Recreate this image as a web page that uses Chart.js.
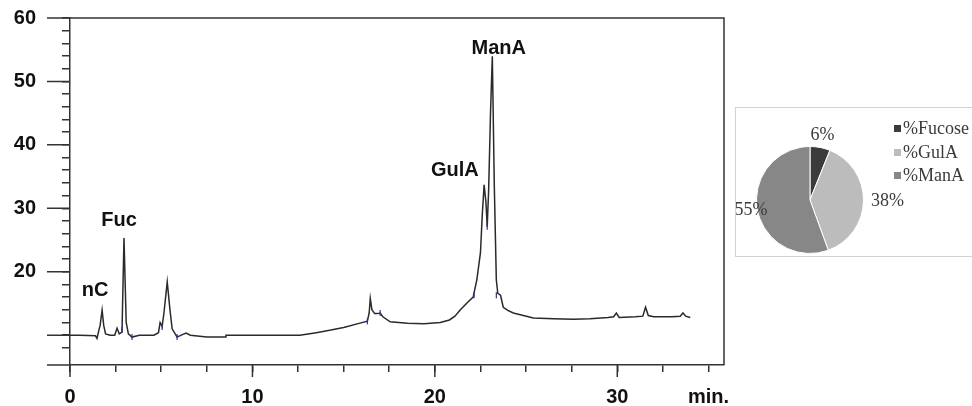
<!DOCTYPE html>
<html>
<head>
<meta charset="utf-8">
<script src="https://cdn.jsdelivr.net/npm/chart.js@4.4.1/dist/chart.umd.min.js"></script>
<style>
  html, body { margin: 0; padding: 0; background: #fff; overflow: hidden; }
  body { width: 972px; height: 406px; position: relative; }
  #lineBox { position: absolute; left: 0; top: 0; width: 740px; height: 406px; }
  #pieFrame { position: absolute; left: 735px; top: 107px; width: 260px; height: 150px; border: 1px solid #d2d2d2; box-sizing: border-box; }
  #pieBox { position: absolute; left: 736px; top: 108px; width: 236px; height: 147px; }
  #pieLegend { position: absolute; left: 894px; top: 117px; font-family: "Liberation Serif", serif; font-size: 18px; color: #3a3a3a; }
  .item { height: 23.5px; display: flex; align-items: center; white-space: nowrap; }
  .swatch { width: 7px; height: 7px; margin-right: 2px; }
</style>
</head>
<body>
<div id="lineBox"><canvas id="lineChart"></canvas></div>
<div id="pieFrame"></div>
<div id="pieBox"><canvas id="pieChart"></canvas></div>
<div id="pieLegend"></div>

<script>
// chromatogram: time (min) and signal
const times = [
  0, 0.5, 1.0, 1.4, 1.48, 1.6, 1.65, 1.76, 1.85, 1.95, 2.2, 2.45, 2.58, 2.7, 2.85,
  2.96, 3.08, 3.2, 3.4, 3.8, 4.6, 4.85, 4.94, 5.05, 5.15, 5.33, 5.48, 5.6, 5.87,
  6.1, 6.36, 6.6, 7.5, 8.5, 8.55, 10, 12.6, 13.5, 14.3, 15.0, 15.9, 16.3, 16.4,
  16.46, 16.55, 16.7, 16.85, 17.0, 17.15, 17.55, 18.5, 19.4, 20.3, 20.8, 21.1,
  21.4, 21.8, 22.1, 22.3, 22.5, 22.6, 22.7, 22.8, 22.87, 22.95, 23.05, 23.15,
  23.26, 23.37, 23.45, 23.6, 23.75, 24.0, 24.3, 25.4, 26.5, 27.6, 28.5, 29.5,
  29.8, 29.95, 30.1, 31.0, 31.4, 31.55, 31.7, 32.0, 33.0, 33.45, 33.6, 33.75, 34.0
]
const signal = [
  10.0, 10.0, 9.95, 9.9, 9.5, 11.0, 11.5, 13.95, 11.5, 10.2, 10.0, 10.0, 11.1, 10.2, 10.5,
  25.3, 12.0, 10.2, 9.7, 10.0, 10.0, 10.4, 12.0, 11.4, 13.5, 18.4, 14.0, 11.0, 9.7,
  10.0, 10.35, 10.0, 9.7, 9.7, 10.0, 10.0, 10.0, 10.4, 10.8, 11.2, 11.9, 12.2, 13.5,
  15.8, 14.0, 13.4, 13.4, 13.5, 12.9, 12.1, 11.9, 11.8, 12.0, 12.4, 13.0,
  14.0, 15.2, 16.0, 18.7, 23.0, 29.0, 33.7, 31.0, 27.1, 33.0, 45.0, 53.95,
  33.4, 18.7, 16.6, 16.3, 14.4, 13.9, 13.5, 12.7, 12.6, 12.5, 12.6, 12.8,
  12.9, 13.5, 12.8, 12.9, 13.0, 14.4, 13.1, 12.9, 12.9, 13.0, 13.5, 13.0, 12.8
]

// integration marks (blue)
const markTimes = [2.85, 3.4, 5.05, 5.87, 16.3, 17.0, 22.15, 22.87, 23.37]
const markSignal = [10.8, 9.7, 11.3, 9.7, 12.2, 13.5, 16.3, 27.1, 16.3]

// peak names
const peakNames = ["nC", "Fuc", "GulA", "ManA"]
const peakTimes = [1.37, 2.69, 21.1, 23.5]
const peakLevels = [17.0, 28.1, 35.9, 55.2]

// axis ticks
const xTicks = [0, 2.5, 5, 7.5, 10, 12.5, 15, 17.5, 20, 22.5, 25, 27.5, 30, 32.5, 35]
const xLabels = ["0", "", "", "", "10", "", "", "", "20", "", "", "", "30", "", "min."]
const xMajor = [0, 10, 20, 30]
const yTicks = [8, 10, 12, 14, 16, 18, 20, 22, 24, 26, 28, 30, 32, 34, 36, 38, 40, 42, 44, 46, 48, 50, 52, 54, 56, 58, 60]
const yMajor = [10, 20, 30, 40, 50, 60]
const yLabelled = [20, 30, 40, 50, 60]

// pie
const pieLabels = ["%Fucose", "%GulA", "%ManA"]
const pieValues = [6, 38, 55]
const pieColors = ["#3b3b3b", "#bcbcbc", "#878787"]

const BOLD = { family: "'Liberation Sans', Arial, sans-serif", size: 20, weight: "bold" }


// frame and long ticks
const framePlugin = {
  id: "frame",
  afterDraw(chart) {
    const ctx = chart.ctx
    const a = chart.chartArea
    const xs = chart.scales.x
    const ys = chart.scales.y

    ctx.save()
    ctx.strokeStyle = "#333"
    ctx.lineWidth = 1.5
    ctx.beginPath()
    ctx.moveTo(a.left - 23, a.top)
    ctx.lineTo(a.right, a.top)
    ctx.lineTo(a.right, a.bottom)
    ctx.moveTo(a.left - 23, a.bottom)
    ctx.lineTo(a.left, a.bottom)

    yMajor.forEach(function (v) {
      const y = ys.getPixelForValue(v)
      ctx.moveTo(a.left - 23, y)
      ctx.lineTo(a.left, y)
    })

    xMajor.forEach(function (v) {
      const x = xs.getPixelForValue(v)
      ctx.moveTo(x, a.bottom)
      ctx.lineTo(x, a.bottom + 12)
    })
    ctx.stroke()

    // peak names
    ctx.fillStyle = "#111"
    ctx.font = "bold 20px 'Liberation Sans', Arial, sans-serif"
    ctx.textAlign = "center"
    ctx.textBaseline = "middle"
    peakNames.forEach(function (name, i) {
      ctx.fillText(name, xs.getPixelForValue(peakTimes[i]), ys.getPixelForValue(peakLevels[i]))
    })
    ctx.restore()
  },
}


// no extra padding from tick labels
function fixPadding(scale) {
  scale.paddingTop = 0
  scale.paddingBottom = 0
  scale.paddingLeft = 0
  scale.paddingRight = 0
}


// chromatogram
new Chart(document.getElementById("lineChart"), {
  type: "line",
  data: {
    datasets: [
      {
        data: markTimes.map(function (t, i) { return { x: t, y: markSignal[i] } }),
        showLine: false,
        pointStyle: "line",
        rotation: 90,
        pointRadius: 3,
        borderColor: "#2c2ca0",
        borderWidth: 1.2,
      },
      {
        data: times.map(function (t, i) { return { x: t, y: signal[i] } }),
        borderColor: "#2a2a2a",
        borderWidth: 1.5,
        pointRadius: 0,
        tension: 0,
      },
    ],
  },
  options: {
    responsive: true,
    maintainAspectRatio: false,
    animation: false,
    layout: { padding: { top: 18, right: 16, left: 0, bottom: 0 } },
    plugins: { legend: { display: false }, tooltip: { enabled: false } },
    scales: {
      x: {
        type: "linear",
        min: 0,
        max: 35.85,
        afterBuildTicks: function (scale) {
          scale.ticks = xTicks.map(function (v) { return { value: v } })
        },
        afterFit: function (scale) {
          scale.height = 41
          fixPadding(scale)
        },
        grid: { drawOnChartArea: false, tickLength: 7, color: "#333", lineWidth: 1.5 },
        border: { color: "#333", width: 1.5 },
        ticks: {
          autoSkip: false,
          maxRotation: 0,
          padding: 13,
          color: "#111",
          font: BOLD,
          callback: function (value) { return xLabels[xTicks.indexOf(value)] },
        },
      },
      y: {
        min: 5.3,
        max: 60,
        afterBuildTicks: function (scale) {
          scale.ticks = yTicks.map(function (v) { return { value: v } })
        },
        afterFit: function (scale) {
          scale.width = 70
          fixPadding(scale)
        },
        grid: { drawOnChartArea: false, tickLength: 8, color: "#333", lineWidth: 1.5 },
        border: { color: "#333", width: 1.5 },
        ticks: {
          autoSkip: false,
          padding: 26,
          color: "#111",
          font: BOLD,
          callback: function (value) { return yLabelled.includes(value) ? String(value) : "" },
        },
      },
    },
  },
  plugins: [framePlugin],
})


// percent labels around the pie
const labelRadius = [1.24, 1.45, 1.12]

const percentPlugin = {
  id: "percent",
  afterDatasetsDraw(chart) {
    const ctx = chart.ctx
    const arcs = chart.getDatasetMeta(0).data

    ctx.save()
    ctx.fillStyle = "#3a3a3a"
    ctx.font = "18px 'Liberation Serif', serif"
    ctx.textAlign = "center"
    ctx.textBaseline = "middle"
    arcs.forEach(function (arc, i) {
      const mid = (arc.startAngle + arc.endAngle) / 2
      const r = arc.outerRadius * labelRadius[i]
      ctx.fillText(pieValues[i] + "%", arc.x + Math.cos(mid) * r, arc.y + Math.sin(mid) * r)
    })
    ctx.restore()
  },
}


// pie chart
new Chart(document.getElementById("pieChart"), {
  type: "pie",
  data: {
    labels: pieLabels,
    datasets: [
      {
        data: pieValues,
        backgroundColor: pieColors,
        borderColor: "#fff",
        borderWidth: 1,
      },
    ],
  },
  options: {
    responsive: true,
    maintainAspectRatio: false,
    animation: false,
    layout: { padding: { left: 0, right: 88, top: 38, bottom: 1 } },
    plugins: { legend: { display: false }, tooltip: { enabled: false } },
  },
  plugins: [percentPlugin],
})


// legend
const legend = document.getElementById("pieLegend")

pieLabels.forEach(function (label, i) {
  const row = document.createElement("div")

  row.className = "item"
  row.innerHTML = `<span class="swatch" style="background:${pieColors[i]}"></span>${label}`

  legend.appendChild(row)
})
</script>
</body>
</html>
